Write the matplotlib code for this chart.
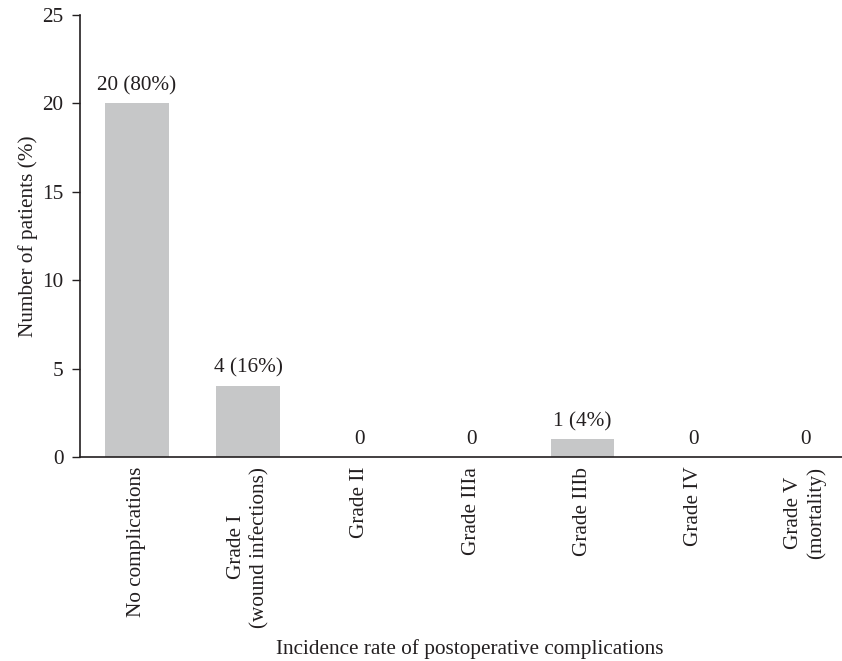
import matplotlib
matplotlib.use("Agg")
import matplotlib.pyplot as plt

categories = ["No complications", "Grade I\n(wound infections)", "Grade II", "Grade IIIa",
              "Grade IIIb", "Grade IV", "Grade V\n(mortality)"]
values = [20, 4, 0, 0, 1, 0, 0]
labels = ["20 (80%)", "4 (16%)", "0", "0", "1 (4%)", "0", "0"]
yticks = [0, 5, 10, 15, 20, 25]

FS = 15.3
W, H = 842, 661
plt.rcParams['font.family'] = ['Liberation Serif', 'DejaVu Serif']
fig = plt.figure(figsize=(W / 100, H / 100), dpi=100)
ax = fig.add_axes([80 / W, 1 - 457 / H, 762 / W, 442 / H])

x = list(range(len(categories)))
ax.bar(x, values, width=0.57, color="#c6c7c8", zorder=2)
for xi, v, lab in zip(x, values, labels):
    ax.annotate(lab, (xi, v), xytext=(0, 6), textcoords="offset points",
                ha="center", va="bottom", fontsize=FS, color="#231f20")

ax.set_xlim(-0.51, 6.33)
ax.set_ylim(0, 25)
ax.set_yticks(yticks)
ax.set_xticks(x)
ax.set_xticklabels(categories, rotation=90, ha="center", va="top", multialignment="center",
                   fontsize=FS, color="#231f20", linespacing=1.25)
ax.tick_params(axis="x", length=0, pad=7)
ax.tick_params(axis="y", length=6, width=1, direction="out", labelsize=FS, colors="#231f20", pad=6)
for s in ["top", "right"]:
    ax.spines[s].set_visible(False)
for s in ["left", "bottom"]:
    ax.spines[s].set_linewidth(1.2)
    ax.spines[s].set_color("#231f20")
ax.set_ylabel("Number of patients (%)", fontsize=FS, color="#231f20", labelpad=3)
fig.text(470 / W, (H - 654) / H, "Incidence rate of postoperative complications",
         ha="center", va="baseline", fontsize=FS, color="#231f20")

fig.savefig("out.png", dpi=100)
